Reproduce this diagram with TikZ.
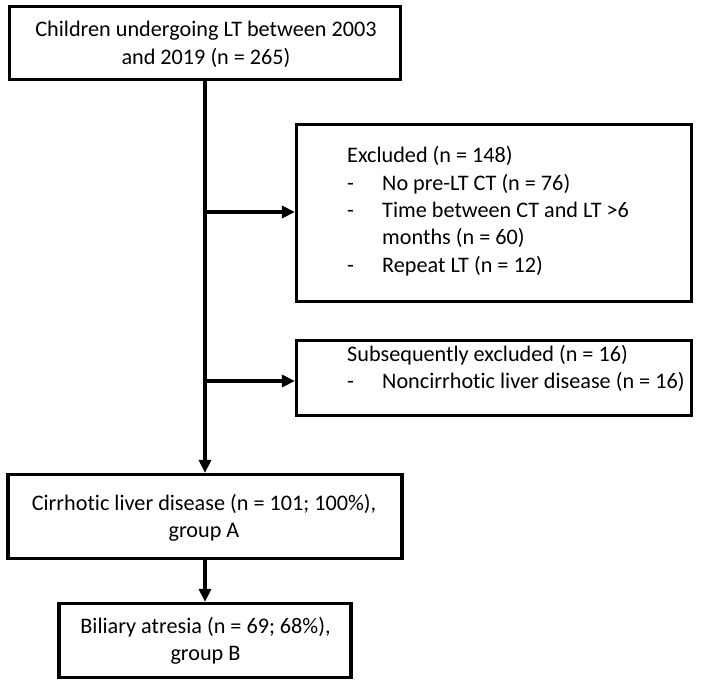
\documentclass[tikz,border=0pt]{standalone}
\usepackage{fontspec}
\setmainfont{Carlito}[Ligatures=NoCommon]
\usetikzlibrary{arrows.meta}
\tikzset{
  box/.style={draw=black, line width=3.2pt, rectangle, inner sep=0pt},
  txt/.style={inner sep=0pt, font=\fontsize{22.2}{27.3}\selectfont},
  arr/.style={line width=3.2pt, -{Triangle[length=13pt,width=12pt]}}
}
\begin{document}
\begin{tikzpicture}[x=1pt,y=-1pt]
\useasboundingbox (0,0) rectangle (709,687);
\node[box, minimum width=391pt, minimum height=73pt] (b1) at (205,43) {};
\node[box, minimum width=395pt, minimum height=177pt] (b2) at (494,213) {};
\node[box, minimum width=395pt, minimum height=75pt] (b3) at (494,378) {};
\node[box, minimum width=394pt, minimum height=84pt] (b4) at (205,516.5) {};
\node[box, minimum width=292pt, minimum height=74pt] (b5) at (205,640.5) {};
\node[txt, anchor=base] (t1) at (206,37) {\begin{tabular}[t]{@{}c@{}}Children undergoing LT between 2003\\ and 2019 (n = 265)\end{tabular}};
\node[txt, anchor=base west] (t2) at (347,163) {\begin{tabular}[t]{@{}p{35pt}@{}l@{}}\multicolumn{2}{@{}l@{}}{Excluded (n = 148)}\\ - & No pre-LT CT (n = 76)\\ - & Time between CT and LT >6\\ & months (n = 60)\\ - & Repeat LT (n = 12)\end{tabular}};
\node[txt, anchor=base west] (t3) at (347,361) {\begin{tabular}[t]{@{}p{35pt}@{}l@{}}\multicolumn{2}{@{}l@{}}{Subsequently excluded (n = 16)}\\ - & Noncirrhotic liver disease (n = 16)\end{tabular}};
\node[txt, anchor=base] (t4) at (204,510) {\begin{tabular}[t]{@{}c@{}}Cirrhotic liver disease (n = 101; 100\%),\\ group A\end{tabular}};
\node[txt, anchor=base] (t5) at (205.5,633) {\begin{tabular}[t]{@{}c@{}}Biliary atresia (n = 69; 68\%),\\ group B\end{tabular}};
\coordinate (j1) at (205,212);
\coordinate (j2) at (205,381);
\draw[arr] (b1.south) -- (b4.north);
\draw[arr] (j1) -- (j1 -| b2.west);
\draw[arr] (j2) -- (j2 -| b3.west);
\draw[arr] (b4.south) -- (b5.north);
\end{tikzpicture}
\end{document}
